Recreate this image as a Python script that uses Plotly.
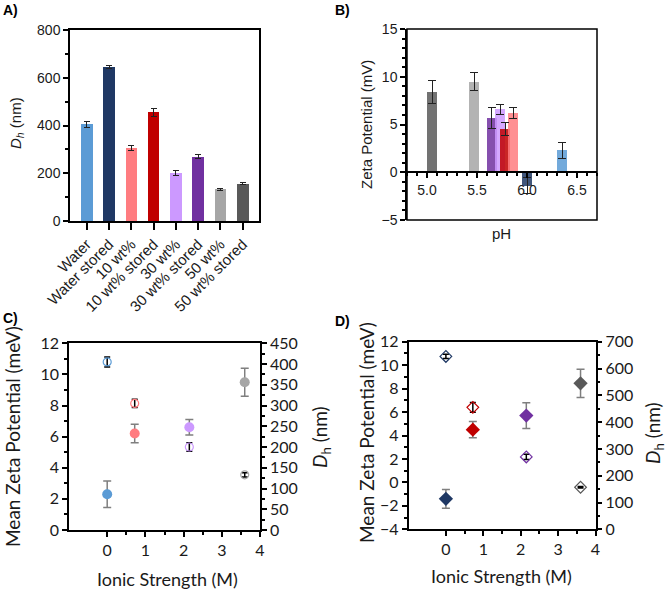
import plotly.graph_objects as go

# sample order used by every panel
categories = ["Water", "Water stored", "10 wt%", "10 wt% stored",
              "30 wt%", "30 wt% stored", "50 wt%", "50 wt% stored"]
colors = ["#5B9BD5", "#1F3864", "#FF7C80", "#C00000",
          "#CC99FF", "#7030A0", "#A6A6A6", "#595959"]

# hydrodynamic diameter (nm)
dh = [405, 645, 305, 455, 200, 270, 133, 157]
dh_err = [12, 8, 10, 18, 10, 10, 5, 3]

# zeta potential (mV) and pH
ph = [6.35, 6.00, 5.86, 5.78, 5.73, 5.645, 5.47, 5.05]
zeta = [2.3, -1.4, 6.2, 4.5, 6.6, 5.7, 9.5, 8.45]
zeta_err = [0.85, 0.8, 0.6, 0.7, 0.5, 1.1, 0.9, 1.2]

# ionic strength (M)
ionic = [0, 0, 0.72, 0.72, 2.15, 2.15, 3.6, 3.6]

W, H = 666, 590


def fx(p):
    return p / W


def fy(p):
    return 1 - p / H


ARIAL = "Liberation Sans, Arial, sans-serif"
CALIBRI = "Lato, Noto Sans, sans-serif"
INK = "#1a1a1a"

fig = go.Figure()

# A) Dh bars
fig.add_trace(go.Bar(
    x=categories, y=dh, width=0.52,
    marker=dict(color=colors, line=dict(width=0)),
    error_y=dict(type="data", array=dh_err, color="#222", thickness=1, width=3),
    xaxis="x", yaxis="y", showlegend=False,
))

# B) zeta vs pH, drawn low pH first so higher pH bars sit on top
order = sorted(range(len(ph)), key=lambda i: ph[i])
fig.add_trace(go.Bar(
    x=[ph[i] for i in order], y=[zeta[i] for i in order], width=0.1,
    marker=dict(color=[colors[i] for i in order], opacity=0.85, line=dict(width=0)),
    error_y=dict(type="data", array=[zeta_err[i] for i in order],
                 color="#222", thickness=1, width=4),
    xaxis="x2", yaxis="y2", showlegend=False,
))

# C) fresh samples, D) stored samples
for sl, xa, ya_l, ya_r, filled, opened, fsize, osize in [
    (slice(0, None, 2), "x3", "y3", "y4", "circle", "circle-open", 10, 8),
    (slice(1, None, 2), "x4", "y5", "y6", "diamond", "diamond-open", 11, 9),
]:
    fig.add_trace(go.Scatter(
        x=ionic[sl], y=zeta[sl], mode="markers",
        marker=dict(symbol=filled, color=colors[sl], size=fsize, line=dict(width=0)),
        error_y=dict(type="data", array=zeta_err[sl], color="#7f7f7f", thickness=1.5, width=4),
        xaxis=xa, yaxis=ya_l, showlegend=False,
    ))
    fig.add_trace(go.Scatter(
        x=ionic[sl], y=dh[sl], mode="markers",
        marker=dict(symbol=opened, color=colors[sl], size=osize, line=dict(width=1.2)),
        error_y=dict(type="data", array=dh_err[sl], color="black", thickness=1.5, width=3),
        xaxis=xa, yaxis=ya_r, showlegend=False,
    ))

common = dict(showgrid=False, zeroline=False, showline=True, linecolor="black",
              linewidth=1.5, ticks="outside", tickcolor="black", tickwidth=1.5)


def minor(**kw):
    return dict(ticks="outside", ticklen=3, tickcolor="black", tickwidth=1.5, **kw)


fa = dict(family=ARIAL, size=14, color=INK)
fa_cat = dict(family=ARIAL, size=15, color=INK)
fc = dict(family=CALIBRI, size=16, color=INK)

fig.update_layout(
    width=W, height=H,
    margin=dict(l=0, r=0, t=0, b=0),
    template="none",
    paper_bgcolor="white", plot_bgcolor="white",
    bargap=0,
    xaxis=dict(domain=[fx(70), fx(259)], anchor="y", type="category",
               range=[-0.75, 7.73], tickangle=-45, ticklen=7, mirror=True,
               tickfont=fa_cat, **common),
    yaxis=dict(domain=[fy(221), fy(30)], anchor="x", range=[0, 800], dtick=200,
               ticklen=5, mirror=True, minor=minor(dtick=100), tickfont=fa, **common),
    xaxis2=dict(domain=[fx(407), fx(597)], anchor="free", position=fy(172.3),
                range=[4.8, 6.7], tick0=5, dtick=0.5, tickformat=".1f", ticklen=5,
                minor=minor(dtick=0.1), tickfont=fa, **common),
    yaxis2=dict(domain=[fy(220), fy(29)], anchor="x2", range=[-5, 15], dtick=5,
                ticklen=5, minor=minor(dtick=1), tickfont=fa, **common),
    xaxis3=dict(domain=[fx(69), fx(260)], anchor="y3", range=[-1, 4],
                tickvals=[0, 1, 2, 3, 4], ticklen=5, mirror=True,
                minor=minor(tickvals=[0.5, 1.5, 2.5, 3.5]), tickfont=fc, **common),
    yaxis3=dict(domain=[fy(530), fy(343.3)], anchor="x3", range=[0, 12], dtick=2,
                ticklen=5, minor=minor(dtick=1), tickfont=fc, **common),
    yaxis4=dict(domain=[fy(530), fy(343.3)], anchor="x3", overlaying="y3", side="right",
                range=[0, 450], dtick=50, ticklen=5, minor=minor(dtick=25),
                tickfont=fc, **common),
    xaxis4=dict(domain=[fx(408.5), fx(595.5)], anchor="y5", range=[-1, 4],
                tickvals=[0, 1, 2, 3, 4], ticklen=5, mirror=True,
                minor=minor(tickvals=[0.5, 1.5, 2.5, 3.5]), tickfont=fc, **common),
    yaxis5=dict(domain=[fy(529.3), fy(341.7)], anchor="x4", range=[-4, 12], dtick=2,
                ticklen=5, minor=minor(dtick=1), tickfont=fc, **common),
    yaxis6=dict(domain=[fy(529.3), fy(341.7)], anchor="x4", overlaying="y5", side="right",
                range=[0, 700], dtick=100, ticklen=5, minor=minor(dtick=50),
                tickfont=fc, **common),
)

# frame around panel B
fig.add_shape(type="rect", xref="x2 domain", yref="y2 domain", x0=0, x1=1, y0=0, y1=1,
              line=dict(color="black", width=1.5), layer="above")


def label(text, x, y, font, angle=0, xanchor="center"):
    fig.add_annotation(text=text, x=fx(x), y=fy(y), xref="paper", yref="paper",
                       showarrow=False, textangle=angle, font=font,
                       xanchor=xanchor, yanchor="middle")


ta = dict(family=ARIAL, size=15, color=INK)
tc = dict(family=CALIBRI, size=19, color=INK)
tcx = dict(family=CALIBRI, size=18, color=INK)
bold_a = dict(family=ARIAL, size=14, color="black", weight="bold")

label("A)", 1, 10, bold_a, xanchor="left")
label("B)", 333, 10, bold_a, xanchor="left")
label("C)", 1, 318, bold_a, xanchor="left")
label("D)", 333, 321, bold_a, xanchor="left")

label("<i>D</i><sub><i>h</i></sub> (nm)", 17, 123, ta, angle=-90)
label("Zeta Potential (mV)", 366, 125, ta, angle=-90)
label("pH", 501, 233, ta)

label("Mean Zeta Potential (meV)", 12, 437, tc, angle=-90)
label("<i>D</i><sub>h</sub> (nm)", 321, 437, tc, angle=-90)
label("Ionic Strength (M)", 167, 579, tcx)

label("Mean Zeta Potential (meV)", 366, 433, tc, angle=-90)
label("<i>D</i><sub>h</sub> (nm)", 654, 433, tc, angle=-90)
label("Ionic Strength (M)", 501, 576, tcx)

# the page's default 8px body margin would push the figure off the window
fig.write_html("out.html", config={"displayModeBar": False},
               post_script="document.body.style.margin='0';")
